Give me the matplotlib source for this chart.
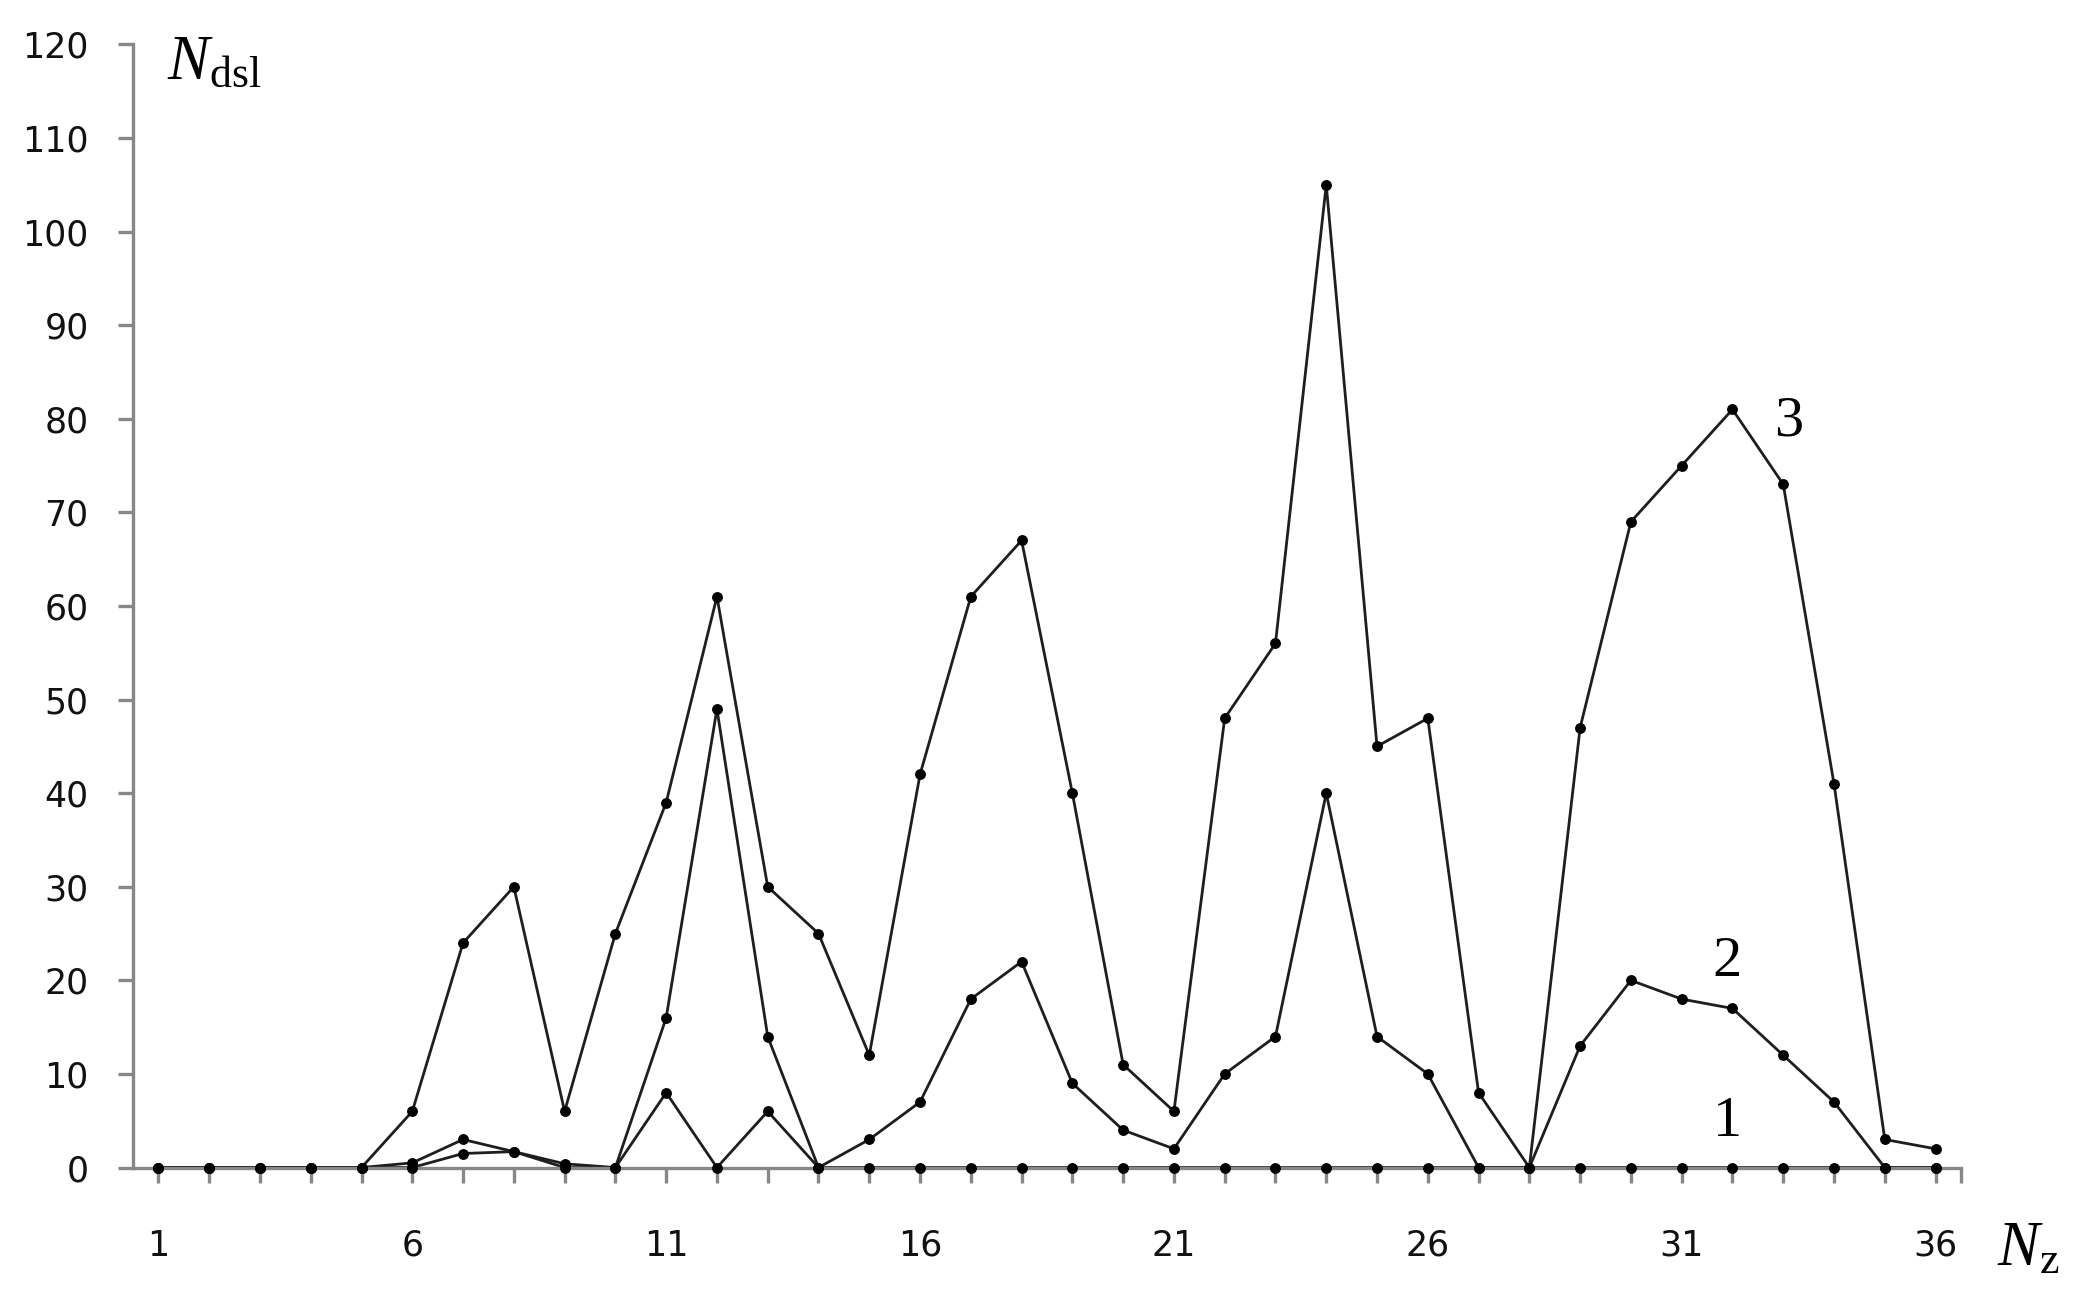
import matplotlib.pyplot as plt

plt.rcParams['mathtext.fontset'] = 'custom'
plt.rcParams['mathtext.rm'] = 'Liberation Serif'
plt.rcParams['mathtext.it'] = 'Liberation Serif:italic'

# data
nz = list(range(1, 37))
curve1 = [0, 0, 0, 0, 0, 0, 1.5, 1.7, 0, 0, 8, 0, 6, 0, 0, 0, 0, 0,
          0, 0, 0, 0, 0, 0, 0, 0, 0, 0, 0, 0, 0, 0, 0, 0, 0, 0]
curve2 = [0, 0, 0, 0, 0, 0.5, 3, 1.7, 0.4, 0, 16, 49, 14, 0, 3, 7, 18, 22,
          9, 4, 2, 10, 14, 40, 14, 10, 0, 0, 13, 20, 18, 17, 12, 7, 0, 0]
curve3 = [0, 0, 0, 0, 0, 6, 24, 30, 6, 25, 39, 61, 30, 25, 12, 42, 61, 67,
          40, 11, 6, 48, 56, 105, 45, 48, 8, 0, 47, 69, 75, 81, 73, 41, 3, 2]
curve_names = ['1', '2', '3']
label_pos = [(31.9, 4.9), (31.9, 22.0), (33.1, 79.7)]

x_labels = [1, 6, 11, 16, 21, 26, 31, 36]
y_ticks = list(range(0, 121, 10))

fig = plt.figure(figsize=(20.85, 13.07), dpi=100)
ax = fig.add_axes([0.0638, 0.1067, 0.8767, 0.8593])

axis_grey = '#878787'
for ys in (curve1, curve2, curve3):
    ax.plot(nz, ys, color='#1e1e1e', lw=2.0, zorder=2, clip_on=False)
    ax.plot(nz, ys, ls='none', marker='o', ms=6.8, color='black', zorder=4, clip_on=False)

for name, (xp, yp) in zip(curve_names, label_pos):
    ax.text(xp, yp, name, fontsize=42, family='Liberation Serif', ha='center', va='center')

ax.set_xlim(0.5, 36.5)
ax.set_ylim(0, 120)

ax.spines['top'].set_visible(False)
ax.spines['right'].set_visible(False)
for side in ('left', 'bottom'):
    ax.spines[side].set_color(axis_grey)
    ax.spines[side].set_linewidth(2.4)
    ax.spines[side].set_zorder(3)

ax.set_xticks(nz)
ax.set_xticklabels([str(v) if v in x_labels else '' for v in nz])
ax.set_xticks([36.5], minor=True)
ax.set_yticks(y_ticks)
ax.tick_params(axis='both', which='both', colors=axis_grey, width=2.4, length=11, direction='out',
               labelcolor='#111111', labelsize=25)
ax.tick_params(axis='x', pad=33)
ax.tick_params(axis='y', pad=21)

fig.text(0.080, 0.939, r'$N_{\rm dsl}$', fontsize=45, va='baseline', ha='left')
fig.text(0.958, 0.032, r'$N_{\rm z}$', fontsize=45, va='baseline', ha='left')

fig.savefig('out.png', dpi=100, facecolor='white')
